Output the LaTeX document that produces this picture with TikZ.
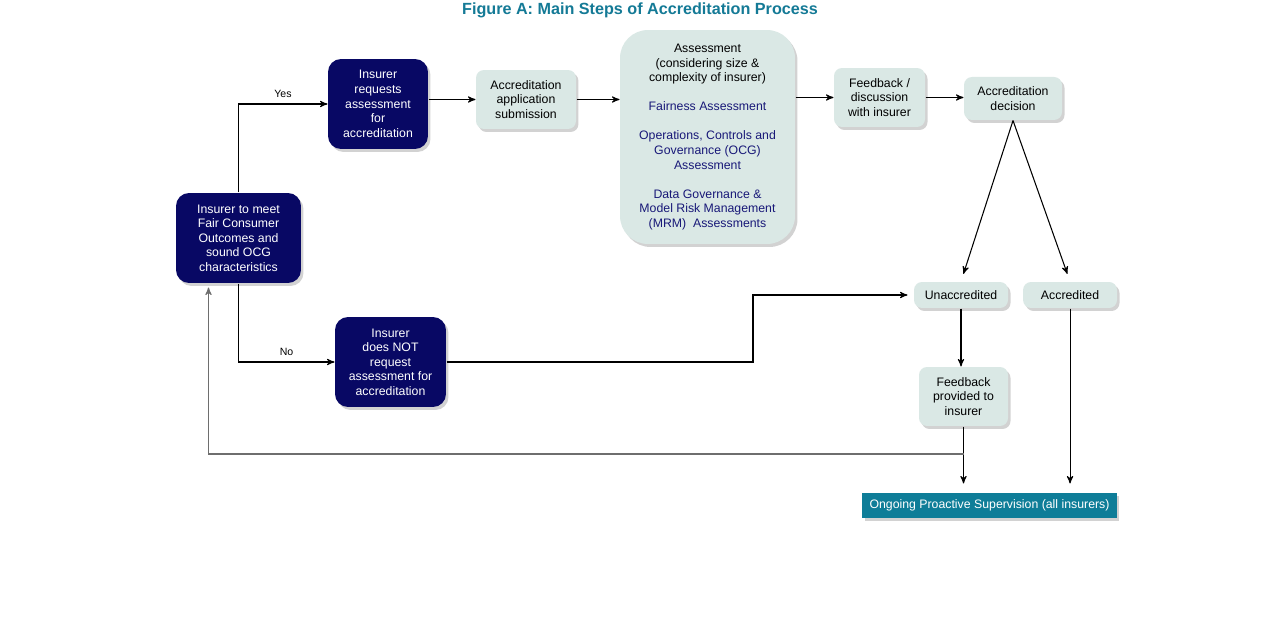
\documentclass[tikz,border=0pt]{standalone}
\usepackage{fontspec}
\setmainfont{Liberation Sans}
\usetikzlibrary{arrows}
\usetikzlibrary{shadows}
\usetikzlibrary{positioning}

\definecolor{navybox}{RGB}{8,8,100}
\definecolor{palebox}{RGB}{218,232,229}
\definecolor{tealbox}{RGB}{14,125,152}
\definecolor{titleteal}{RGB}{20,122,150}
\definecolor{stepblue}{RGB}{24,24,120}
\definecolor{backline}{RGB}{110,110,110}

\tikzset{
	boxshadow/.style={drop shadow={shadow xshift=0.05cm, shadow yshift=-0.06cm, opacity=0.35, fill=gray}},
	darkstep/.style={fill=navybox, text=white, rounded corners=0.26cm, align=center, inner sep=1pt, boxshadow},
	lightstep/.style={fill=palebox, text=black, rounded corners=0.16cm, align=center, inner sep=1pt, boxshadow},
	finalstep/.style={fill=tealbox, text=white, align=center, inner sep=1pt, boxshadow},
	branch/.style={font=\fontsize{6}{7}\selectfont, above}
}

\begin{document}
\begin{tikzpicture}[x=0.02cm,y=-0.02cm,>=stealth',line width=0.6pt,
	every node/.style={font=\fontsize{7}{8.3}\selectfont}]
	\useasboundingbox (0,0) rectangle (1280,624);
	\fill[white] (0,0) rectangle (1280,624);

	\node[font=\bfseries\fontsize{9.2}{11}\selectfont, text=titleteal] (title) at (640,10) {Figure A: Main Steps of Accreditation Process};

	% left column
	\node[darkstep, minimum width=2.5cm, minimum height=1.8cm] (start) at (238.5,238) {Insurer to meet\\Fair Consumer\\Outcomes and\\sound OCG\\characteristics};
	\node[darkstep, minimum width=2cm, minimum height=1.8cm] (req) at (378,104) {Insurer\\requests\\assessment\\for\\accreditation};
	\node[darkstep, minimum width=2.22cm, minimum height=1.8cm] (noreq) at (390.5,362) {Insurer\\does NOT\\request\\assessment for\\accreditation};

	% top row
	\node[lightstep, minimum width=2cm, minimum height=1.18cm] (sub) at (526,99.5) {Accreditation\\application\\submission};
	\node[lightstep, rounded corners=0.56cm, minimum width=3.5cm, minimum height=4.28cm] (assess) at (707.5,137)
		{Assessment\\(considering size \&\\complexity of insurer)\\[8.3pt]
		 \textcolor{stepblue}{Fairness Assessment}\\[8.3pt]
		 \textcolor{stepblue}{Operations, Controls and}\\\textcolor{stepblue}{Governance (OCG)}\\\textcolor{stepblue}{Assessment}\\[8.3pt]
		 \textcolor{stepblue}{Data Governance \&}\\\textcolor{stepblue}{Model Risk Management}\\\textcolor{stepblue}{(MRM)\ \ Assessments}};
	\node[lightstep, minimum width=1.82cm, minimum height=1.18cm] (fb) at (879.5,97.5) {Feedback /\\discussion\\with insurer};
	\node[lightstep, minimum width=1.96cm, minimum height=0.86cm] (dec) at (1013,98.5) {Accreditation\\decision};

	% outcomes
	\node[lightstep, minimum width=1.88cm, minimum height=0.52cm] (unacc) at (961,295) {Unaccredited};
	\node[lightstep, minimum width=1.88cm, minimum height=0.52cm, right=0.28cm of unacc] (acc) {Accredited};
	\node[lightstep, minimum width=1.78cm, minimum height=1.18cm] (fbp) at (963.5,396.5) {Feedback\\provided to\\insurer};
	\node[finalstep, minimum width=5.1cm, minimum height=0.5cm] (ongoing) at (989.5,505.5) {Ongoing Proactive Supervision (all insurers)};

	\coordinate (jog) at (753,330);
	\coordinate (back) at (963.5,454);

	\draw[->] (start.north) |- (req.west) node[branch, pos=0.75] {Yes};
	\draw[->] (start.south) |- (noreq.west) node[branch, pos=0.75] {No};
	\draw[->] (req.east |- sub.west) -- (sub.west);
	\draw[->] (sub.east) -- (sub.east -| assess.west);
	\draw[->] (assess.east |- fb.west) -- (fb.west);
	\draw[->] (fb.east) -- (fb.east -| dec.west);
	\draw[->, shorten >=0.16cm] (dec.south) -- (unacc.north);
	\draw[->, shorten >=0.16cm] (dec.south) -- (acc.north);
	\draw[->, shorten >=0.12cm] (noreq.east) -| (jog) |- (unacc.west);
	\draw[->] (unacc.south) -- (unacc.south |- fbp.north);
	\draw[->, shorten >=0.18cm] (fbp.south) -- (fbp.south |- ongoing.north);
	\draw[->, shorten >=0.18cm] (acc.south) -- (acc.south |- ongoing.north);
	\draw[->, backline, shorten >=0.08cm] (back) -| ([xshift=-0.6cm]start.south);
\end{tikzpicture}
\end{document}
